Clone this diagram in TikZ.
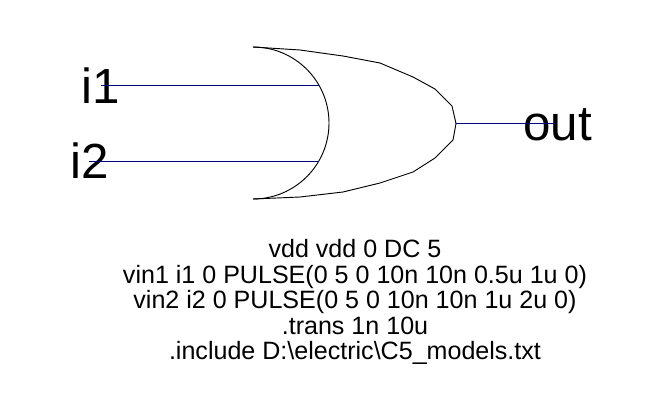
\documentclass[tikz,border=0pt]{standalone}
\usepackage{fontspec}
\setmainfont{Liberation Sans}
\definecolor{wirecolor}{RGB}{0,0,128}
\begin{document}
\begin{tikzpicture}[x=0.75pt,y=-0.75pt,wirenode/.style={inner sep=0pt,anchor=base west,font=\fontsize{37}{37}\selectfont},spicenode/.style={inner sep=0pt,align=center,anchor=center,font=\fontsize{18.8}{19.1}\selectfont},gateline/.style={draw=black,line width=0.7pt,line join=round},wireline/.style={draw=wirecolor,line width=0.75pt}]
		\useasboundingbox (0,0) rectangle (667,400);
		\node [wirenode] (i1) at (81, 103) {i1};
		\node [wirenode] (i2) at (70, 178) {i2};
		\node [wirenode] (out) at (523, 140) {out};
		\node [spicenode] (spice) at (355, 302) {vdd vdd 0 DC 5\\vin1 i1 0 PULSE(0 5 0 10n 10n 0.5u 1u 0)\\vin2 i2 0 PULSE(0 5 0 10n 10n 1u 2u 0)\\.trans 1n 10u\\.include D:\textbackslash electric\textbackslash C5\_models.txt};
		\coordinate (top) at (253, 47);
		\coordinate (bottom) at (253, 199);
		\coordinate (tip) at (456, 123.5);
		\coordinate (i1start) at (101, 85.5);
		\coordinate (i1end) at (318.5, 85.5);
		\coordinate (i2start) at (89, 161.5);
		\coordinate (i2end) at (318.5, 161.5);
		\coordinate (outend) at (555, 123.5);
		\draw[gateline] (top) arc[start angle=-90,end angle=90,radius=76];
		\draw[gateline] (top) -- (300, 50) -- (343, 56) -- (380, 63) -- (413, 77) -- (435, 89) -- (452, 106) -- (tip) -- (453, 140) -- (435, 158) -- (413, 172) -- (380, 183) -- (343, 192) -- (300, 197) -- (bottom);
		\draw[wireline] (i1start) -- (i1end);
		\draw[wireline] (i2start) -- (i2end);
		\draw[wireline] (tip) -- (outend);
	\end{tikzpicture}
\end{document}
